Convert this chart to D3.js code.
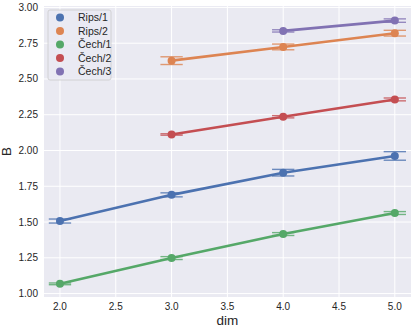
<!DOCTYPE html>
<html>
<head>
<meta charset="utf-8">
<script src="https://cdn.jsdelivr.net/npm/d3@7"></script>
<style>
  body { margin: 0; background: #fff; }
  svg { font-family: "Liberation Sans", Arial, sans-serif; }
</style>
</head>
<body>
<svg id="chart" width="416" height="331"></svg>
<script>
// series: dims, means and error half-widths
const seriesNames = ["Rips/1", "Rips/2", "Čech/1", "Čech/2", "Čech/3"];
const colors = ["#4C72B0", "#DD8452", "#55A868", "#C44E52", "#8172B3"];

const rips1Dim = [2, 3, 4, 5];
const rips1B = [1.507, 1.69, 1.845, 1.962];
const rips1Err = [0.014, 0.014, 0.023, 0.03];

const rips2Dim = [3, 4, 5];
const rips2B = [2.628, 2.724, 2.82];
const rips2Err = [0.027, 0.02, 0.02];

const cech1Dim = [2, 3, 4, 5];
const cech1B = [1.068, 1.248, 1.416, 1.563];
const cech1Err = [0.006, 0.01, 0.01, 0.01];

const cech2Dim = [3, 4, 5];
const cech2B = [2.112, 2.236, 2.357];
const cech2Err = [0.005, 0.008, 0.01];

const cech3Dim = [4, 5];
const cech3B = [2.836, 2.908];
const cech3Err = [0.008, 0.012];

const xTicks = [2.0, 2.5, 3.0, 3.5, 4.0, 4.5, 5.0];
const yTicks = [1.00, 1.25, 1.50, 1.75, 2.00, 2.25, 2.50, 2.75, 3.00];

const series = [
  [rips1Dim, rips1B, rips1Err],
  [rips2Dim, rips2B, rips2Err],
  [cech1Dim, cech1B, cech1Err],
  [cech2Dim, cech2B, cech2Err],
  [cech3Dim, cech3B, cech3Err]
].map(([d, b, e], i) => ({
  name: seriesNames[i],
  color: colors[i],
  pts: d.map((x, j) => ({ x, y: b[j], e: e[j] }))
}));

const svg = d3.select("#chart");
const m = { left: 44, right: 411, top: 6, bottom: 297 };

const x = d3.scaleLinear().domain([1.857, 5.145]).range([m.left, m.right]);
const y = d3.scaleLinear().domain([0.976, 3.01]).range([m.bottom, m.top]);

svg.append("rect")
  .attr("x", m.left).attr("y", m.top)
  .attr("width", m.right - m.left).attr("height", m.bottom - m.top)
  .attr("fill", "#EAEAF2");

// grid
svg.append("g").selectAll("line").data(xTicks).join("line")
  .attr("x1", d => x(d)).attr("x2", d => x(d))
  .attr("y1", m.top).attr("y2", m.bottom)
  .attr("stroke", "#fff").attr("stroke-width", 1);
svg.append("g").selectAll("line").data(yTicks).join("line")
  .attr("x1", m.left).attr("x2", m.right)
  .attr("y1", d => y(d)).attr("y2", d => y(d))
  .attr("stroke", "#fff").attr("stroke-width", 1);

// tick labels
svg.append("g").selectAll("text").data(xTicks).join("text")
  .attr("x", d => x(d)).attr("y", m.bottom + 13)
  .attr("text-anchor", "middle")
  .attr("font-size", 10).attr("fill", "#262626")
  .text(d => d3.format(".1f")(d));
svg.append("g").selectAll("text").data(yTicks).join("text")
  .attr("x", m.left - 6).attr("y", d => y(d) + 3.5)
  .attr("text-anchor", "end")
  .attr("font-size", 10).attr("fill", "#262626")
  .text(d => d3.format(".2f")(d));

// axis labels
svg.append("text")
  .attr("x", (m.left + m.right) / 2).attr("y", 325)
  .attr("text-anchor", "middle")
  .attr("font-size", 13.5).attr("fill", "#262626")
  .text("dim");
svg.append("text")
  .attr("transform", `translate(10.5,${(m.top + m.bottom) / 2}) rotate(-90)`)
  .attr("text-anchor", "middle")
  .attr("font-size", 13.5).attr("fill", "#262626")
  .text("B");

const line = d3.line().x(d => x(d.x)).y(d => y(d.y));
const capW = 0.1;

const g = svg.append("g").selectAll("g").data(series).join("g");

g.append("path")
  .attr("d", d => line(d.pts))
  .attr("fill", "none")
  .attr("stroke", d => d.color)
  .attr("stroke-width", 2.6);

// error bars
g.each(function (s) {
  const eg = d3.select(this).append("g")
    .attr("stroke", s.color).attr("stroke-width", 1.4).attr("opacity", 0.8);
  eg.selectAll(".v").data(s.pts).join("line")
    .attr("x1", d => x(d.x)).attr("x2", d => x(d.x))
    .attr("y1", d => y(d.y - d.e)).attr("y2", d => y(d.y + d.e));
  eg.selectAll(".ct").data(s.pts).join("line")
    .attr("x1", d => x(d.x - capW)).attr("x2", d => x(d.x + capW))
    .attr("y1", d => y(d.y + d.e)).attr("y2", d => y(d.y + d.e));
  eg.selectAll(".cb").data(s.pts).join("line")
    .attr("x1", d => x(d.x - capW)).attr("x2", d => x(d.x + capW))
    .attr("y1", d => y(d.y - d.e)).attr("y2", d => y(d.y - d.e));
});

g.selectAll("circle").data(d => d.pts.map(p => ({ ...p, c: d.color }))).join("circle")
  .attr("cx", d => x(d.x)).attr("cy", d => y(d.y))
  .attr("r", 4).attr("fill", d => d.c);

// legend
const lg = svg.append("g");
lg.append("rect")
  .attr("x", 48).attr("y", 10).attr("width", 63).attr("height", 70)
  .attr("rx", 2)
  .attr("fill", "#EAEAF2").attr("fill-opacity", 0.8)
  .attr("stroke", "#cccccc").attr("stroke-width", 0.8);
const items = lg.selectAll("g").data(series).join("g")
  .attr("transform", (d, i) => `translate(0,${17.5 + i * 13.5})`);
items.append("circle").attr("cx", 60).attr("cy", 0).attr("r", 4).attr("fill", d => d.color);
items.append("text").attr("x", 78).attr("y", 3.8)
  .attr("font-size", 10.5).attr("fill", "#262626")
  .text(d => d.name);
</script>
</body>
</html>
